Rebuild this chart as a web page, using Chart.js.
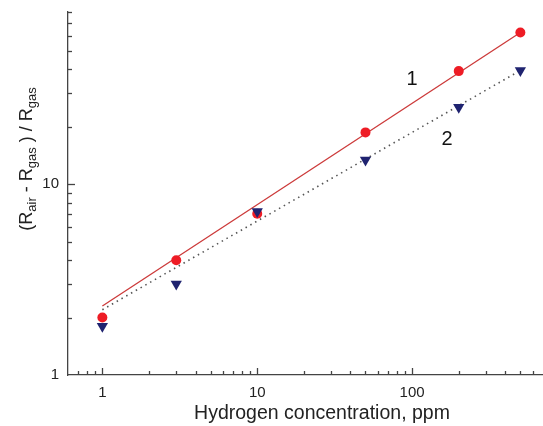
<!DOCTYPE html>
<html><head><meta charset="utf-8">
<script src="https://cdn.jsdelivr.net/npm/chart.js@4"></script>
<style>html,body{margin:0;padding:0;background:#fff;}#wrap{width:543px;height:426px;position:relative;}</style>
</head><body><div id="wrap"><canvas id="c" width="543" height="426"></canvas></div>
<script>
// Data
const concentrations = [1, 3, 10, 50, 200, 500];
const sensor1 = [2.0, 4.0, 7.0, 18.7, 39.2, 62.5];
const sensor2 = [1.8, 3.0, 7.2, 13.4, 25.3, 39.5];
const fitX = [1, 500];
const fit1 = [2.3, 62.5];
const fit2 = [2.2, 39.5];
const xTickLabels = [1, 10, 100];
const yTickLabels = [1, 10];
const curveLabels = [{text: '1', x: 100, y: 35.5}, {text: '2', x: 168, y: 17.2}];

const FONT = '"Liberation Sans", Arial, sans-serif';
const pts = (xs, ys) => xs.map((x, i) => ({x: x, y: ys[i]}));

// 1..9 x 10^k values within a scale's range (for minor tick marks)
function logTickValues(scale) {
  const out = [];
  for (let e = Math.floor(Math.log10(scale.min)); e <= Math.ceil(Math.log10(scale.max)); e++) {
    for (let m = 1; m <= 9; m++) {
      const v = +(m * Math.pow(10, e)).toPrecision(6);
      if (v >= scale.min && v <= scale.max) out.push({v: v, major: m === 1});
    }
  }
  return out;
}

const axisPlugin = {
  id: 'axisDecor',
  afterDraw(chart) {
    const ctx = chart.ctx;
    const xs = chart.scales.x, ys = chart.scales.y;
    const ca = chart.chartArea;
    ctx.save();
    ctx.strokeStyle = '#444';
    ctx.lineWidth = 1.3;
    logTickValues(xs).forEach(t => {
      const p = Math.round(xs.getPixelForValue(t.v)) + 0.5;
      if (p <= ca.left + 1 || p > ca.right) return;
      ctx.beginPath();
      ctx.moveTo(p, ca.bottom);
      ctx.lineTo(p, ca.bottom - (t.major ? 7 : 4));
      ctx.stroke();
    });
    logTickValues(ys).forEach(t => {
      const p = Math.round(ys.getPixelForValue(t.v)) + 0.5;
      if (p >= ca.bottom - 1) return;
      ctx.beginPath();
      ctx.moveTo(ca.left, p);
      ctx.lineTo(ca.left + (t.major ? 7 : 4), p);
      ctx.stroke();
    });
    ctx.fillStyle = '#111';
    ctx.font = '20px ' + FONT;
    ctx.textAlign = 'center';
    ctx.textBaseline = 'middle';
    curveLabels.forEach(l => {
      ctx.fillText(l.text, xs.getPixelForValue(l.x), ys.getPixelForValue(l.y));
    });
    ctx.fillStyle = '#222';
    ctx.font = '19.5px ' + FONT;
    ctx.fillText('Hydrogen concentration, ppm', 322, 414);
    const parts = [['(R', 0], ['air', 1], [' - R', 0], ['gas', 1], [' ) / R', 0], ['gas', 1]];
    const big = '18px ' + FONT, small = '13px ' + FONT;
    let total = 0;
    parts.forEach(p => { ctx.font = p[1] ? small : big; total += ctx.measureText(p[0]).width; });
    ctx.translate(26, 159);
    ctx.rotate(-Math.PI / 2);
    ctx.textAlign = 'left';
    ctx.textBaseline = 'alphabetic';
    let x = -total / 2;
    parts.forEach(p => {
      ctx.font = p[1] ? small : big;
      ctx.fillText(p[0], x, p[1] ? 10 : 6);
      x += ctx.measureText(p[0]).width;
    });
    ctx.restore();
  }
};

new Chart(document.getElementById('c'), {
  type: 'scatter',
  data: {
    datasets: [
      {data: pts(concentrations, sensor2), pointStyle: 'triangle', rotation: 180, pointRadius: 6.5, pointHoverRadius: 6.5,
       backgroundColor: '#1f2370', borderColor: '#1f2370', borderWidth: 0, showLine: false, order: 0},
      {data: pts(concentrations, sensor1), pointStyle: 'circle', pointRadius: 5, pointHoverRadius: 5,
       backgroundColor: '#ee1c25', borderColor: '#ee1c25', borderWidth: 0, showLine: false, order: 1},
      {data: pts(fitX, fit1), showLine: true, pointRadius: 0, borderColor: '#cc3a3a', borderWidth: 1.3, order: 2},
      {data: pts(fitX, fit2), showLine: true, pointRadius: 0, borderColor: '#555', borderWidth: 1.6, borderDash: [1.5, 4], order: 2}
    ]
  },
  options: {
    responsive: false,
    animation: false,
    events: [],
    layout: {autoPadding: false, padding: {top: 12, right: 0, left: 0, bottom: 0}},
    plugins: {legend: {display: false}, tooltip: {enabled: false}},
    scales: {
      x: {
        type: 'logarithmic', min: 0.6, max: 700,
        grid: {display: false, drawTicks: false},
        border: {display: true, color: '#444', width: 1.3},
        ticks: {autoSkip: false, maxRotation: 0, padding: 9, color: '#222', font: {family: FONT, size: 15},
          callback: (v) => xTickLabels.includes(v) ? String(v) : null},
        afterFit: (s) => { s.height = 51; s.paddingRight = 0; s.paddingLeft = 0; }
      },
      y: {
        type: 'logarithmic', min: 1, max: 80,
        grid: {display: false, drawTicks: false},
        border: {display: true, color: '#444', width: 1.3},
        ticks: {autoSkip: false, padding: 9, color: '#222', font: {family: FONT, size: 15},
          callback: (v) => yTickLabels.includes(v) ? String(v) : null},
        afterFit: (s) => { s.width = 68; s.paddingTop = 0; s.paddingBottom = 0; }
      }
    }
  },
  plugins: [axisPlugin]
});
</script></body></html>
